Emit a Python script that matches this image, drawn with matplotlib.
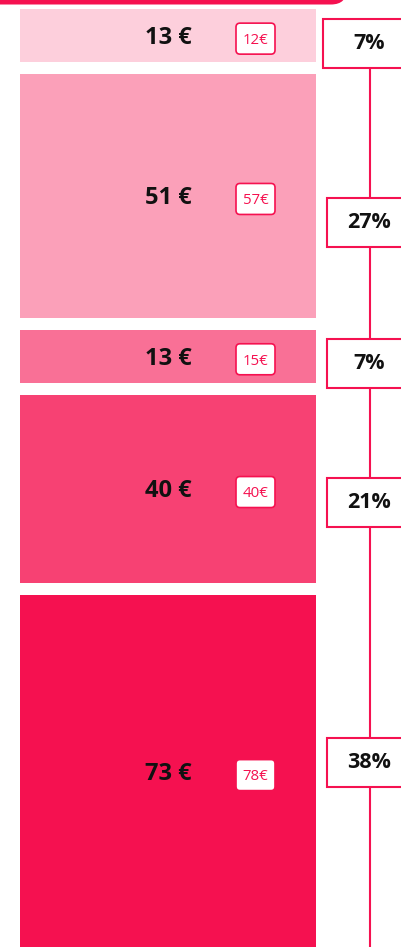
import matplotlib
matplotlib.use('Agg')
import matplotlib.pyplot as plt
from matplotlib.patches import FancyBboxPatch, Rectangle
import numpy as np

# ---------------- data ----------------
categories = ['Segment 1', 'Segment 2', 'Segment 3', 'Segment 4', 'Segment 5']
values = [13, 51, 13, 40, 73]               # current amounts (€)
previous_values = [12, 57, 15, 40, 78]      # amounts shown in small boxes (€)
value_labels = [f'{v} €' for v in values]
previous_labels = [f'{p}€' for p in previous_values]
shares = [round(v / sum(values) * 100) for v in values]
share_labels = [f'{s}%' for s in shares]

# ---------------- layout / style ----------------
W, H, DPI = 401, 947, 100
PINK = '#F51150'
FONT = ['Open Sans', 'DejaVu Sans']
alphas = [0.2, 0.4, 0.6, 0.8, 1.0]
base = np.array([245, 17, 80]) / 255


def tint(a):
    return tuple(1 - a * (1 - base))


block_colors = [tint(a) for a in alphas]

px_per_unit = 5.01
top_px = 9
gap_px = 12
gap_u = gap_px / px_per_unit
bar_left, bar_right = 20, 316
bar_cx = (bar_left + bar_right) / 2
small_box_x = 255.5
small_box_w, small_box_h = 39, 31
line_x = 369.5
share_offsets_px = [8, 27, 7, 14, -10]
share_box_w = [93, 85, 85, 85, 85]
share_box_h = 49

value_fs = 17
small_fs = 10.8
cap_pt = 0.714 * value_fs
cap_px = cap_pt * DPI / 72
small_cap_px = 0.714 * small_fs * DPI / 72

fig = plt.figure(figsize=(W / DPI, H / DPI), dpi=DPI)
ax = fig.add_axes([0, 0, 1, 1])
ax.set_xlim(0, W)
ax.set_ylim((H - top_px) / px_per_unit, -top_px / px_per_unit)
ax.axis('off')

cum = np.concatenate([[0], np.cumsum(values)[:-1]])
heights = np.array(values, dtype=float) - gap_u
ax.bar(bar_cx, heights, bottom=cum, width=bar_right - bar_left,
       color=block_colors, edgecolor='none', zorder=2)
mids = cum + heights / 2

for m, lab in zip(mids, value_labels):
    ax.annotate(lab, xy=(bar_cx, m), xytext=(0, -cap_pt / 2), textcoords='offset points',
                ha='center', va='baseline', fontsize=value_fs, fontweight='bold',
                color='#111111', family=FONT, zorder=4)

# overlay in pixel coordinates
ax2 = fig.add_axes([0, 0, 1, 1])
ax2.set_xlim(0, W)
ax2.set_ylim(H, 0)
ax2.axis('off')

# header strip
ax2.add_patch(FancyBboxPatch((-30, -40), 377, 44.5,
                             boxstyle='round,pad=0,rounding_size=16',
                             fc=PINK, ec='none', zorder=1))

fig.canvas.draw()
mid_px = [H - ax.transData.transform((0, m))[1] for m in mids]

# small comparison boxes, baseline-aligned with the value labels
for mp, prev in zip(mid_px, previous_labels):
    baseline = mp + cap_px / 2
    cy = baseline - small_cap_px / 2
    ax2.add_patch(FancyBboxPatch((small_box_x - small_box_w / 2, cy - small_box_h / 2),
                                 small_box_w, small_box_h,
                                 boxstyle='round,pad=0,rounding_size=4',
                                 fc='white', ec=PINK, lw=1.2, zorder=3))
    ax2.text(small_box_x, baseline, prev, ha='center', va='baseline', fontsize=small_fs,
             color=PINK, family=FONT, zorder=4)

centers = [mp + off for mp, off in zip(mid_px, share_offsets_px)]
ax2.plot([line_x, line_x], [centers[0], H + 5], color=PINK, lw=1.5, zorder=1,
         solid_capstyle='butt')
for cy, lab, bw in zip(centers, share_labels, share_box_w):
    ax2.add_patch(Rectangle((line_x - bw / 2, cy - share_box_h / 2), bw, share_box_h,
                            fc='white', ec=PINK, lw=1.5, zorder=2))
    ax2.text(line_x, cy, lab, ha='center', va='center', fontsize=15.5,
             fontweight='bold', color='#111111', family=FONT, zorder=3)

fig.savefig('out.png', dpi=DPI)
